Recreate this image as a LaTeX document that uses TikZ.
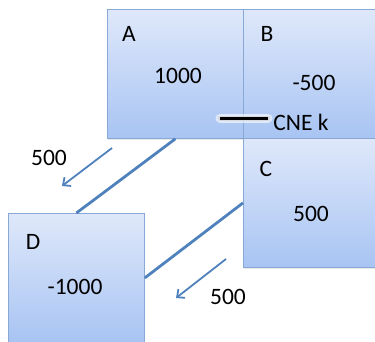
\documentclass[tikz,border=0pt]{standalone}
\usepackage{fontspec}
\setmainfont{Carlito}
\usetikzlibrary{arrows.meta,shadows}
\definecolor{boxtop}{HTML}{DFE8FA}
\definecolor{boxbot}{HTML}{A8C4F3}
\definecolor{boxline}{HTML}{88A8D6}
\definecolor{linkblue}{HTML}{4F81BD}
\begin{document}
\begin{tikzpicture}[x=1pt,y=-1pt,
  cell/.style={draw=boxline, line width=0.8pt, top color=boxtop, bottom color=boxbot,
    minimum width=136pt, minimum height=129pt, inner sep=0pt, anchor=north west,
    drop shadow={opacity=0.18, shadow xshift=0.5pt, shadow yshift=-1.5pt}},
  lbl/.style={font=\fontsize{23.5}{27}\selectfont, inner sep=0pt, text=black},
  link/.style={draw=linkblue, line width=2.8pt},
  flow/.style={draw=linkblue, line width=1.8pt, -{Straight Barb[length=6pt,width=11pt,line width=1.8pt]}}]
\useasboundingbox (0,0) rectangle (375,341);
\clip (0,0) rectangle (375,341);
% balance cells
\node[cell] (A) at (107,9) {};
\node[cell] (B) at (243,9) {};
\node[cell] (C) at (243,138) {};
\node[cell] (D) at (8,213) {};
% cell labels and values
\node[lbl] (lA) at (129,34) {A};
\node[lbl] (vA) at (178,76) {1000};
\node[lbl] (lB) at (267,34) {B};
\node[lbl] (vB) at (314,83) {-500};
\node[lbl] (lC) at (266,169) {C};
\node[lbl] (vC) at (311,214) {500};
\node[lbl] (lD) at (33,242) {D};
\node[lbl] (vD) at (75,287) {-1000};
% links between cells
\draw[link] (A.south) -- (D.north);
\draw[link] (C.west) -- (D.east);
% transfer arrows
\coordinate (f1s) at (112,148);
\coordinate (f1e) at (62,186);
\coordinate (f2s) at (226,259);
\coordinate (f2e) at (176,298);
\draw[flow] (f1s) -- (f1e);
\draw[flow] (f2s) -- (f2e);
\node[lbl] (t1) at (49,158) {500};
\node[lbl] (t2) at (228,297) {500};
% CNE marker with soft glow
\coordinate (m1) at (220,118);
\coordinate (m2) at (268,118);
\draw[white, opacity=0.6, line width=9pt, line cap=round] (m1) -- (m2);
\draw[gray!40, opacity=0.5, line width=5pt, line cap=round] (m1) -- (m2);
\draw[black, line width=3pt] (m1) -- (m2);
\node[lbl] (cne) at (301,122) {CNE k};
\end{tikzpicture}
\end{document}
